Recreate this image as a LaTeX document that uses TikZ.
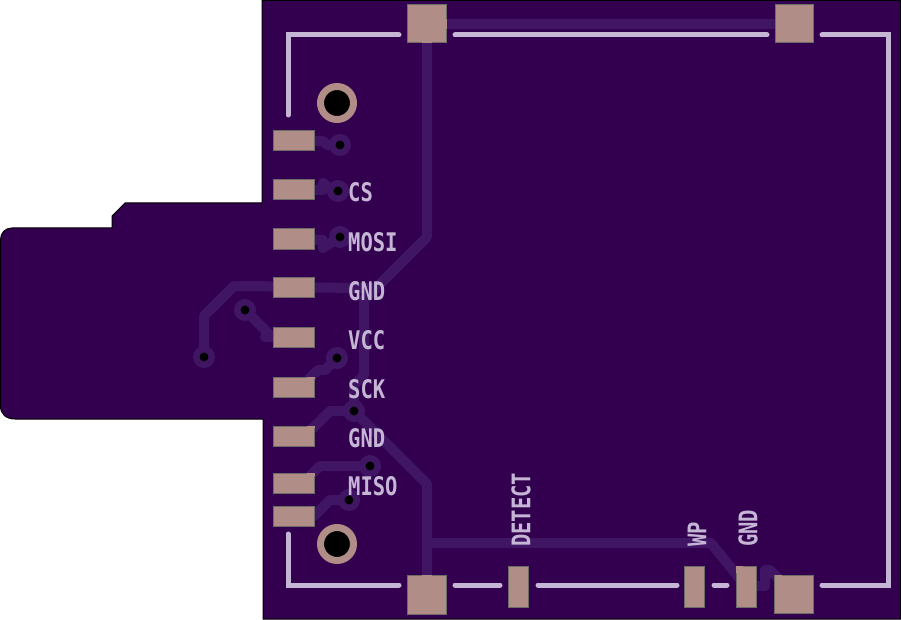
\documentclass[tikz,border=0pt]{standalone}
\usepackage{fontspec}
\newfontfamily\silkfont{DejaVu Sans Mono}
\usetikzlibrary{backgrounds}
\definecolor{boardc}{HTML}{33004F}
\definecolor{tracec}{HTML}{3F1564}
\definecolor{padc}{HTML}{B08D86}
\definecolor{edgec}{HTML}{6E6C66}
\definecolor{silkc}{HTML}{C6B6D6}
\tikzset{
  padbase/.style={rectangle, draw=edgec, fill=padc, line width=1pt, inner sep=0pt},
  padwide/.style={padbase, minimum width=41pt, minimum height=20pt},
  padtall/.style={padbase, minimum width=20pt, minimum height=41pt},
  padbig/.style={padbase, minimum width=38.5pt, minimum height=38.5pt},
  via/.style={circle, fill=black, draw=tracec, line width=6.5pt, minimum size=15.5pt, inner sep=0pt},
  hole/.style={circle, fill=black, draw=padc, line width=7pt, minimum size=33pt, inner sep=0pt},
  trace/.style={draw=tracec, line width=10pt, line join=round, line cap=round},
  silk/.style={draw=silkc, line width=5pt, line join=miter, line cap=round},
  lab/.style={text=silkc, font=\silkfont\bfseries\fontsize{20.5}{20.5}\selectfont, inner sep=0pt, yscale=1.25, transform shape, anchor=west},
  patch/.style={fill=padc, draw=none}
}

\begin{document}
\begin{tikzpicture}[x=1pt, y=-1pt]
\useasboundingbox (0,0) rectangle (901,620);

% ---- pads left ----
\node[padwide] (p1) at (294,140.5) {};
\node[padwide] (p2) at (294,190) {};
\node[padwide] (p3) at (294,239) {};
\node[padwide] (p4) at (294,287.5) {};
\node[padwide] (p5) at (294,337) {};
\node[padwide] (p6) at (294,387) {};
\node[padwide] (p7) at (294,436) {};
\node[padwide] (p8) at (294,483.5) {};
\node[padwide] (p9) at (294,516.5) {};

% ---- pads corners and bottom ----
\node[padbig] (tl) at (427,23.5) {};
\node[padbig] (tr) at (794.5,23.5) {};
\node[padbig] (bl) at (427,595) {};
\node[padbig] (br) at (794,594.5) {};
\node[padtall] (det) at (518,586.5) {};
\node[padtall] (wp) at (694.5,586.5) {};
\node[padtall] (gn) at (746,586.5) {};

% ---- trace entries ----
\foreach \xa/\ya/\xb/\yb in {307/376.5/314.5/379, 307/425.5/314.5/428, 307/473/314.5/476,
    735.5/565.5/743/573, 774.5/574.8/782/583, 422/41/432/43.3, 422/575.2/432/578, 445/19/446.8/29}
  \fill[patch] (\xa,\ya) rectangle (\xb,\yb);

% ---- holes and vias ----
\node[hole] (h1) at (337,103) {};
\node[hole] (h2) at (337,544) {};
\node[via] (v1) at (340,145) {};
\node[via] (v2) at (338,191) {};
\node[via] (v3) at (340,237) {};
\node[via] (v4) at (245,310) {};
\node[via] (v5) at (204,357) {};
\node[via] (v6) at (337,358) {};
\node[via] (v7) at (354,411) {};
\node[via] (v8) at (370,466) {};
\node[via] (v9) at (349,500) {};

% ---- board ----
\begin{scope}[on background layer]
\draw[black, fill=boardc, line width=1pt] (262,0.5) -- (900.5,0.5) -- (900.5,619) -- (263,619) -- (263,419)
  -- (15,419) .. controls (6,419) and (0.5,414) .. (0.5,406) -- (0.5,240)
  .. controls (0.5,233) and (5,228) .. (12,228) -- (112,228) -- (112,216) -- (125,203) -- (262,203) -- cycle;

% ---- traces ----
\draw[trace] (tl.center |- 0,24) -- (tr.center |- 0,24);
\draw[trace] (tl.center) -- (427,237) -- (364,300) -- (364,375) -- (354,385) -- (v7.center);
\draw[trace] (p4.center) -- (376,288);
\draw[trace] (p4.center) -- (260,286) -- (234,286) -- (204,316) -- (v5.center);
\draw[trace] (v4.center) -- (271,336) -- (265,337) -- (p5.center);
\draw[trace] (v6.center) -- (325,370) -- (318,370) -- (301,387) -- (p6.center);
\draw[trace] (p7.center) -- (305,436) -- (330,411) -- (v7.center) -- (427,484) -- (bl.center);
\draw[trace] (427,543) -- (711,543) -- (gn.center);
\draw[trace] (p8.center) -- (302,484) -- (320,466) -- (v8.center);
\draw[trace] (p9.center) -- (314,516) -- (330,500) -- (v9.center);
\draw[trace] (p1.center) -- (323,141) -- (327,145) -- (v1.center);
\draw[trace] (p2.center) -- (323,190) -- (323,183) -- (333,191) -- (v2.center);
\draw[trace] (p3.center) -- (323,240) -- (323,248) -- (v3.center);
\draw[trace] (gn.center) -- (765,586) -- (765,570) -- (770,570) -- (br.center);
\end{scope}

% ---- silk ----
\draw[silk] (288,115) -- (288,35) -- (399,35);
\draw[silk] (455,35) -- (767,35);
\draw[silk] (822,35) -- (888,35) -- (888,585) -- (822,585);
\draw[silk] (288,534) -- (288,585) -- (399,585);
\draw[silk] (455,585) -- (500,585);
\draw[silk] (538,585) -- (677,585);
\draw[silk] (714,585) -- (727,585);

% ---- labels ----
\node[lab] (lcs) at (348,192) {CS};
\node[lab] (lmosi) at (348,242) {MOSI};
\node[lab] (lgnd) at (348,291) {GND};
\node[lab] (lvcc) at (348,340) {VCC};
\node[lab] (lsck) at (348,389) {SCK};
\node[lab] (lgndb) at (348,438) {GND};
\node[lab] (lmiso) at (348,486) {MISO};
\node[rotate=90, lab] (ldet) at (521,547) {DETECT};
\node[rotate=90, lab] (lwp) at (697,547) {WP};
\node[rotate=90, lab] (lgndc) at (748,547) {GND};

\end{tikzpicture}
\end{document}
